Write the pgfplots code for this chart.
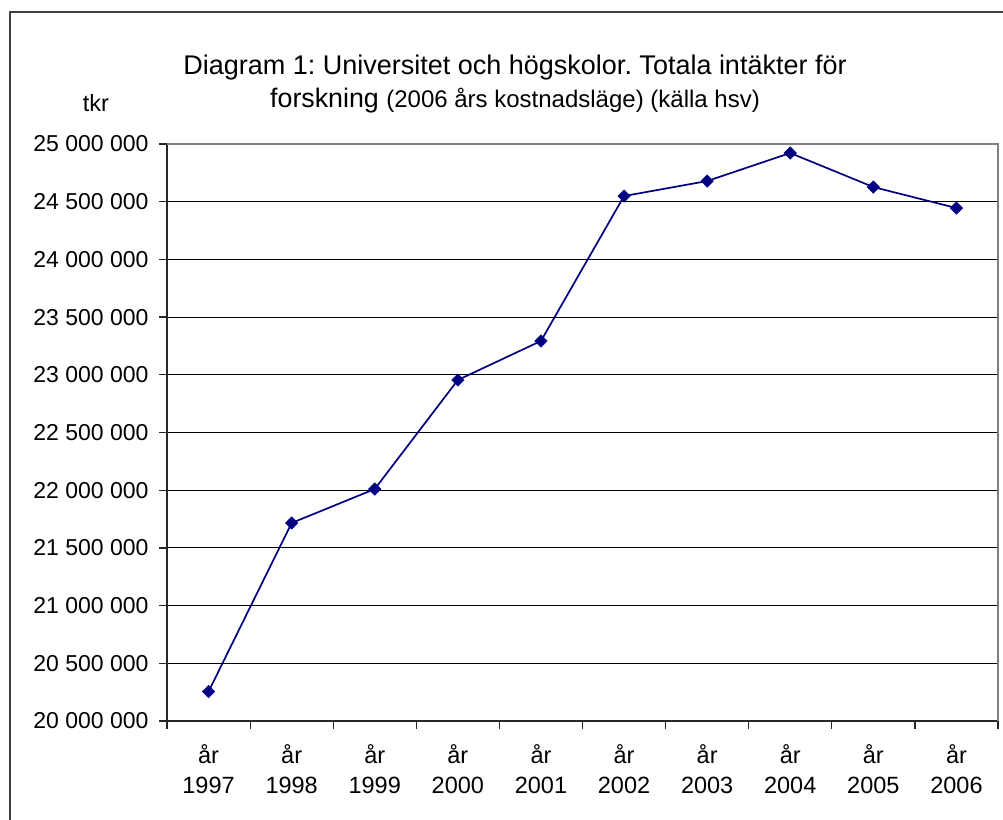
\documentclass[border=0pt]{standalone}
\usepackage{pgfplots}
\pgfplotsset{compat=1.18}
\usepackage{fontspec}
\setmainfont{Liberation Sans}
\frenchspacing
\definecolor{navy}{RGB}{0,0,128}
\begin{document}
\begin{tikzpicture}[x=1pt,y=1pt]
\useasboundingbox (0,0) rectangle (1003,819);
\draw[line width=2pt, black!75] (10,-5) -- (10,807) -- (1010,807);
\begin{axis}[
  at={(167pt,98pt)}, anchor=south west,
  scale only axis, width=831pt, height=577pt,
  xmin=-0.5, xmax=9.5, ymin=20000000, ymax=25000000,
  scaled y ticks=false,
  axis line style={line width=1.2pt, black!85},
  axis x line*=bottom, axis y line*=left,
  xtick={0,...,9},
  xticklabels={{år\\1997},{år\\1998},{år\\1999},{år\\2000},{år\\2001},{år\\2002},{år\\2003},{år\\2004},{år\\2005},{år\\2006}},
  major x tick style={draw=none},
  minor xtick={-0.5,0.5,...,9.5},
  minor x tick style={line width=1.2pt, black!85},
  minor tick length=8pt,
  ytick={20000000,20500000,...,25000000},
  yticklabels={20 000 000,20 500 000,21 000 000,21 500 000,22 000 000,22 500 000,23 000 000,23 500 000,24 000 000,24 500 000,25 000 000},
  major tick length=8pt,
  tick align=outside,
  y tick style={line width=1.2pt, black!85},
  ymajorgrids, grid style={line width=1pt, black},
  xticklabel style={align=center, font=\fontsize{23.5}{30}\selectfont, yshift=-12pt},
  yticklabel style={font=\fontsize{23}{26}\selectfont, xshift=-7pt},
  clip=false,
]
\draw[line width=1.2pt, black!50] (axis cs:-0.5,25000000) -- (axis cs:9.5,25000000) -- (axis cs:9.5,20000000);
\addplot[navy, line width=1.7pt, mark=square*, mark size=4.4pt, mark options={fill=navy, draw=navy, line width=0.5pt, rotate=45}] coordinates {
(0,20255000) (1,21716000) (2,22010000) (3,22955000) (4,23293000)
(5,24549000) (6,24679000) (7,24922000) (8,24627000) (9,24445000)};
\end{axis}
\node[anchor=base, font=\fontsize{27}{30}\selectfont] at (515,744) {Diagram 1: Universitet och högskolor. Totala intäkter för};
\node[anchor=base, font=\fontsize{26.8}{30}\selectfont] at (515,711) {forskning {\fontsize{24}{26}\selectfont (2006 års kostnadsläge) (källa hsv)}};
\node[anchor=base, font=\fontsize{23.5}{26}\selectfont] at (96,707) {tkr};
\end{tikzpicture}
\end{document}
